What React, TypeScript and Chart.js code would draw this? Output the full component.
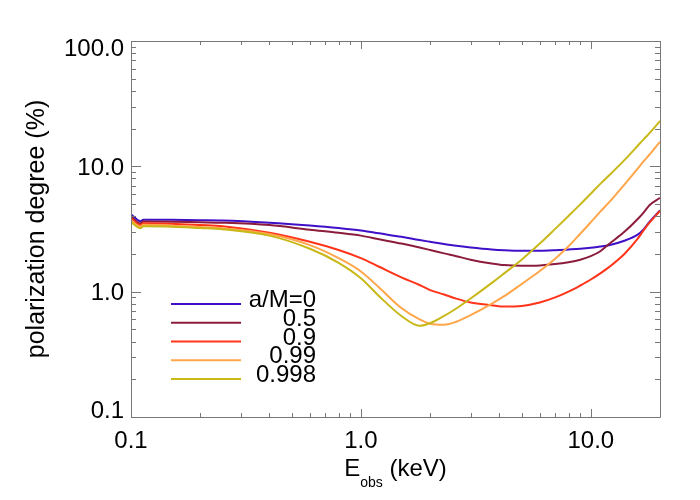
import React, { useEffect, useRef } from "react";
import { Chart, registerables } from "chart.js";

Chart.register(...registerables);

// ---- data ----
const energies = [0.1, 0.11, 0.113, 0.15, 0.2, 0.25, 0.4, 0.6, 0.8, 1.0, 1.2, 1.5, 1.8, 2.0, 2.3, 2.6, 3.0, 3.7, 4.2, 5.0, 6.0, 7.0, 8.0, 9.0, 10, 11, 12, 14, 16, 17, 18, 20];

const spin0 = [4.15, 3.65, 3.75, 3.74, 3.72, 3.7, 3.55, 3.37, 3.22, 3.08, 2.92, 2.74, 2.58, 2.5, 2.4, 2.32, 2.25, 2.17, 2.14, 2.12, 2.12, 2.14, 2.17, 2.2, 2.24, 2.29, 2.35, 2.55, 2.85, 3.15, 3.6, 4.45];
const spin05 = [3.97, 3.5, 3.63, 3.62, 3.58, 3.55, 3.4, 3.12, 2.95, 2.8, 2.62, 2.42, 2.25, 2.15, 2.02, 1.92, 1.8, 1.68, 1.63, 1.61, 1.62, 1.66, 1.72, 1.8, 1.92, 2.1, 2.4, 3.0, 3.8, 4.3, 4.9, 5.6];
const spin09 = [3.85, 3.4, 3.52, 3.48, 3.4, 3.33, 2.95, 2.5, 2.15, 1.85, 1.58, 1.3, 1.13, 1.03, 0.95, 0.88, 0.82, 0.78, 0.76, 0.77, 0.82, 0.9, 1.0, 1.12, 1.25, 1.4, 1.57, 2.0, 2.65, 3.1, 3.55, 4.4];
const spin099 = [3.7, 3.3, 3.42, 3.36, 3.28, 3.2, 2.88, 2.35, 1.85, 1.45, 1.08, 0.74, 0.6, 0.555, 0.545, 0.575, 0.65, 0.8, 0.92, 1.15, 1.46, 1.83, 2.3, 2.9, 3.58, 4.35, 5.15, 7.15, 9.6, 11.0, 12.4, 15.7];
const spin0998 = [3.6, 3.2, 3.32, 3.3, 3.22, 3.15, 2.8, 2.2, 1.7, 1.28, 0.92, 0.64, 0.535, 0.56, 0.64, 0.734, 0.882, 1.17, 1.4, 1.8, 2.42, 3.17, 4.02, 4.97, 6.05, 7.25, 8.45, 11.2, 14.6, 16.5, 18.4, 23];

const seriesValues = [spin0, spin05, spin09, spin099, spin0998];
const seriesLabels = ["a/M=0", "0.5", "0.9", "0.99", "0.998"];
const seriesColors = ["#4010c8", "#8c1c3c", "#ff3418", "#ffa64a", "#c8b818"];

const xMin = 0.1;
const xMax = 20;
const yMin = 0.1;
const yMax = 100;
const xTickValues = [0.1, 1, 10];
const xTickLabels = ["0.1", "1.0", "10.0"];
const yTickValues = [0.1, 1, 10, 100];
const yTickLabels = ["0.1", "1.0", "10.0", "100.0"];
const yTitle = "polarization degree (%)";
const xTitleMain = "E";
const xTitleSub = "obs";
const xTitleUnit = "(keV)";

const FONT = '"Liberation Sans", Arial, Helvetica, sans-serif';
const AXIS_COLOR = "#777777";

function logTicks(min: number, max: number): number[] {
  const out: number[] = [];
  for (let e = Math.floor(Math.log10(min)); e <= Math.ceil(Math.log10(max)); e++) {
    for (let m = 1; m <= 9; m++) {
      const v = m * Math.pow(10, e);
      if (v >= min * (1 - 1e-9) && v <= max * (1 + 1e-9)) out.push(v);
    }
  }
  return out;
}

function isDecade(v: number) {
  const l = Math.log10(v);
  return Math.abs(l - Math.round(l)) < 1e-6;
}

const decorPlugin = {
  id: "idlDecor",
  afterDatasetsDraw(chart: any) {
    const ctx = chart.ctx as CanvasRenderingContext2D;
    const xs = chart.scales.x;
    const ys = chart.scales.y;
    const { left, right, top, bottom } = chart.chartArea;
    ctx.save();
    ctx.strokeStyle = AXIS_COLOR;
    ctx.lineWidth = 1;
    ctx.beginPath();
    ctx.rect(Math.round(left) + 0.5, Math.round(top) + 0.5, Math.round(right - left), Math.round(bottom - top));
    ctx.stroke();

    ctx.beginPath();
    for (const v of logTicks(xMin, xMax)) {
      const px = Math.round(xs.getPixelForValue(v)) + 0.5;
      const len = isDecade(v) ? 8 : 4;
      ctx.moveTo(px, bottom);
      ctx.lineTo(px, bottom - len);
      ctx.moveTo(px, top);
      ctx.lineTo(px, top + len);
    }
    for (const v of logTicks(yMin, yMax)) {
      const py = Math.round(ys.getPixelForValue(v)) + 0.5;
      const len = isDecade(v) ? 10 : 5;
      ctx.moveTo(left, py);
      ctx.lineTo(left + len, py);
      ctx.moveTo(right, py);
      ctx.lineTo(right - len, py);
    }
    ctx.stroke();

    // tick labels
    ctx.fillStyle = "#000";
    ctx.font = `24px ${FONT}`;
    ctx.textAlign = "center";
    ctx.textBaseline = "alphabetic";
    xTickValues.forEach((v, i) => {
      ctx.fillText(xTickLabels[i], xs.getPixelForValue(v), bottom + 31);
    });
    ctx.textAlign = "right";
    yTickValues.forEach((v, i) => {
      const py = ys.getPixelForValue(v);
      const base = Math.min(Math.max(py + 8.6, top + 15), bottom + 1);
      ctx.fillText(yTickLabels[i], left - 7, base);
    });

    // axis titles
    ctx.save();
    ctx.translate(37, (top + bottom) / 2);
    ctx.rotate(-Math.PI / 2);
    ctx.textAlign = "center";
    ctx.textBaseline = "middle";
    ctx.font = `25px ${FONT}`;
    ctx.fillText(yTitle, 0, 0);
    ctx.restore();

    ctx.textAlign = "left";
    ctx.textBaseline = "alphabetic";
    ctx.font = `24px ${FONT}`;
    const cx = (left + right) / 2;
    const wE = ctx.measureText(xTitleMain).width;
    ctx.font = `14px ${FONT}`;
    const wSub = ctx.measureText(xTitleSub).width;
    ctx.font = `24px ${FONT}`;
    const wSp = ctx.measureText(" ").width;
    const wUnit = ctx.measureText(xTitleUnit).width;
    const total = wE + wSub + wSp + wUnit;
    let tx = cx - total / 2;
    const tBase = bottom + 59;
    ctx.fillText(xTitleMain, tx, tBase);
    tx += wE;
    ctx.font = `14px ${FONT}`;
    ctx.fillText(xTitleSub, tx, tBase + 11);
    tx += wSub + wSp;
    ctx.font = `24px ${FONT}`;
    ctx.fillText(xTitleUnit, tx, tBase);

    // legend
    const legLineX0 = left + 40;
    const legLineX1 = left + 110;
    const legTextRight = left + 185;
    const legTop = top + 263;
    const legStep = 18.75;
    seriesLabels.forEach((lab, i) => {
      const y = legTop + i * legStep;
      ctx.strokeStyle = seriesColors[i];
      ctx.lineWidth = 2;
      ctx.beginPath();
      ctx.moveTo(legLineX0, y);
      ctx.lineTo(legLineX1, y);
      ctx.stroke();
      ctx.fillStyle = "#000";
      ctx.textAlign = "right";
      ctx.font = `24px ${FONT}`;
      ctx.fillText(lab, legTextRight, y + 3);
    });
    ctx.restore();
  },
};

export default function App() {
  const ref = useRef<HTMLCanvasElement>(null);
  useEffect(() => {
    if (!ref.current) return;
    const chart = new Chart(ref.current, {
      type: "line",
      data: {
        datasets: seriesValues.map((vals, i) => ({
          label: seriesLabels[i],
          data: energies.map((e, j) => ({ x: e, y: vals[j] })),
          borderColor: seriesColors[i],
          backgroundColor: seriesColors[i],
          borderWidth: 2,
          pointRadius: 0,
          fill: false,
          cubicInterpolationMode: "monotone" as const,
          order: 4 - i,
        })),
      },
      options: {
        animation: false,
        responsive: false,
        events: [],
        layout: { padding: { left: 131, right: 40, top: 41, bottom: 83 } },
        plugins: { legend: { display: false }, tooltip: { enabled: false }, title: { display: false } },
        scales: {
          x: { type: "logarithmic", min: xMin, max: xMax, display: false },
          y: { type: "logarithmic", min: yMin, max: yMax, display: false },
        },
      },
      plugins: [decorPlugin],
    });
    return () => chart.destroy();
  }, []);
  return (
    <div style={{ position: "fixed", left: 0, top: 0, width: 700, height: 500, background: "#fff" }}>
      <canvas ref={ref} width={700} height={500} />
    </div>
  );
}
